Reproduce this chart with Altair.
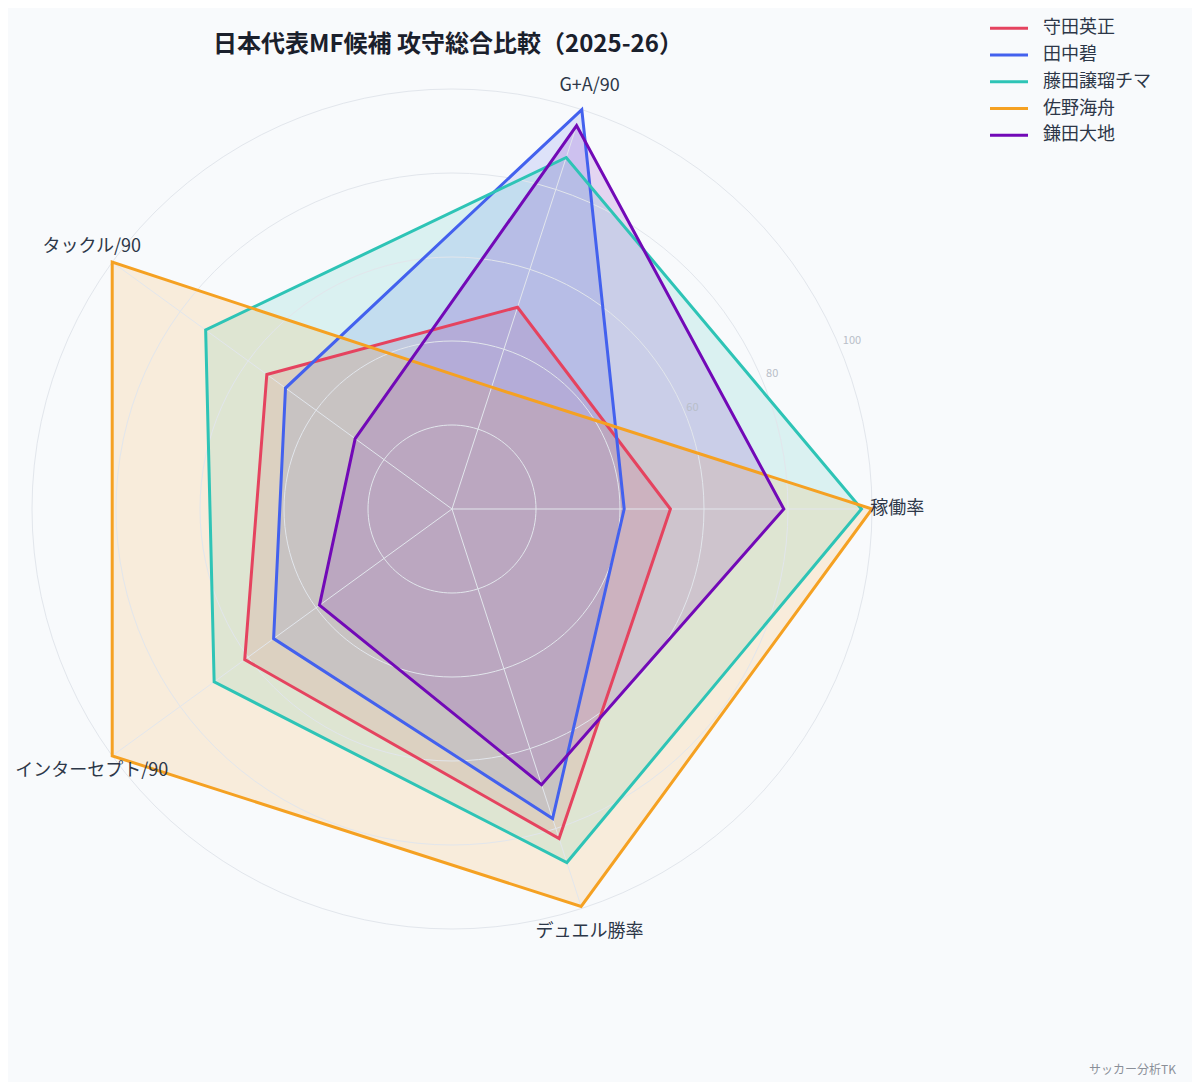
import altair as alt
import pandas as pd

# ---- data ----
metrics = ["稼働率", "G+A/90", "タックル/90", "インターセプト/90", "デュエル勝率"]
players = ["守田英正", "田中碧", "藤田譲瑠チマ", "佐野海舟", "鎌田大地"]
colors = ["#e5435f", "#4361ee", "#2ec4b6", "#f5a122", "#7209b7"]

moriya = [52, 50.5, 54.5, 61, 82.5]
tanaka = [41, 100, 49, 52.5, 77.5]
fujita = [97.5, 88, 72.5, 70, 88.5]
sano = [100, 30.5, 100, 100, 99.5]
kamada = [79, 96, 28.5, 39, 69]

grid_levels = [20, 40, 60, 80, 100]
tick_labels = [60, 80, 100]
title_text = "日本代表MF候補 攻守総合比較（2025-26）"
credit_text = "サッカー分析TK"

FONT = "Noto Sans CJK JP"
series = [moriya, tanaka, fujita, sano, kamada]
rows = []
for p, vals in zip(players, series):
    for i, (m, v) in enumerate(zip(metrics, vals)):
        rows.append({"player": p, "metric": m, "idx": i, "value": v})
df = pd.DataFrame(rows)
legend_df = pd.DataFrame({"player": players, "rank": list(range(len(players)))})

W, H = 1184, 1074
PX = 4.2          # pixels per unit
CX, CY = 444, 501  # centre in chart pixels
xs = alt.Scale(domain=[-CX / PX, (W - CX) / PX], nice=False, zero=False)
ys = alt.Scale(domain=[-(H - CY) / PX, CY / PX], nice=False, zero=False)
cscale = alt.Scale(domain=players, range=colors)


def XY():
    return dict(x=alt.X("px:Q", scale=xs, axis=None),
                y=alt.Y("py:Q", scale=ys, axis=None))


polar = dict(a="datum.idx * 2 * PI / 5",
             px="datum.value * cos(datum.a)",
             py="datum.value * sin(datum.a)")

fills = alt.Chart(df).transform_calculate(**polar).mark_line(
    interpolate="linear-closed", strokeWidth=0, fillOpacity=0.15
).encode(
    **XY(),
    fill=alt.Fill("player:N", scale=cscale, legend=None),
    detail="player:N",
    order="idx:Q",
)

grid = alt.Chart(pd.DataFrame({"level": grid_levels})).transform_calculate(
    deg="sequence(0, 361, 3)"
).transform_flatten(["deg"]).transform_calculate(
    px="datum.level * cos(datum.deg * PI / 180)",
    py="datum.level * sin(datum.deg * PI / 180)",
).mark_line(stroke="#e2e6ec", strokeWidth=1).encode(
    **XY(), detail="level:N", order="deg:Q"
)

spokes = alt.Chart(pd.DataFrame({"metric": metrics, "idx": list(range(5))})).transform_calculate(
    a="datum.idx * 2 * PI / 5",
    px="100 * cos(datum.a)",
    py="100 * sin(datum.a)",
    zero="0",
).mark_rule(stroke="#e2e6ec", strokeWidth=1).encode(
    **XY(), x2="zero:Q", y2="zero:Q"
)

strokes = alt.Chart(df).transform_calculate(**polar).mark_line(
    interpolate="linear-closed", strokeWidth=3
).encode(
    **XY(),
    color=alt.Color("player:N", scale=cscale, legend=None),
    detail="player:N",
    order="idx:Q",
)

ticks = alt.Chart(pd.DataFrame({"t": tick_labels})).transform_calculate(
    px="(datum.t * 1.03 + 0.3) * cos(22.8 * PI / 180)",
    py="(datum.t * 1.03 + 0.3) * sin(22.8 * PI / 180)",
).mark_text(fontSize=11, font=FONT, color="#b8bec8", baseline="middle").encode(**XY(), text="t:Q")

labels = alt.Chart(pd.DataFrame({"metric": metrics, "idx": list(range(5))})).transform_calculate(
    a="datum.idx * 2 * PI / 5",
    px="106 * cos(datum.a)",
    py="106 * sin(datum.a)",
).mark_text(fontSize=18, font=FONT, color="#2d3748", align="center", baseline="middle").encode(
    **XY(), text="metric:N"
)

# legend (top right), one entry per player
leg_base = alt.Chart(legend_df).transform_calculate(ly="20.3 + datum.rank * 26.75")
leg_lines = leg_base.mark_rule(strokeWidth=3).encode(
    x=alt.value(982), x2=alt.value(1020),
    y=alt.Y("ly:Q", scale=None),
    color=alt.Color("player:N", scale=cscale, legend=None),
)
leg_text = leg_base.mark_text(
    fontSize=18, font=FONT, color="#2d3748", align="left", baseline="middle"
).encode(x=alt.value(1035), y=alt.Y("ly:Q", scale=None), text="player:N")

title = alt.Chart(pd.DataFrame({"t": [title_text]})).mark_text(
    fontSize=24, font=FONT, fontWeight="bold", color="#1a202c", align="center", baseline="middle"
).encode(x=alt.value(440), y=alt.value(37), text="t:N")

credit = alt.Chart(pd.DataFrame({"t": [credit_text]})).mark_text(
    fontSize=12, font=FONT, color="#8a8f98", align="right", baseline="middle"
).encode(x=alt.value(1168), y=alt.value(1062), text="t:N")

chart = alt.layer(
    fills, grid, spokes, strokes, ticks, labels, leg_lines, leg_text, title, credit
).properties(
    width=W, height=H, padding=0,
    autosize=alt.AutoSizeParams(type="none"),
    background="#f8fafc",
).configure_view(stroke=None)

chart.save("out.html", embed_options={"renderer": "svg", "actions": False})
